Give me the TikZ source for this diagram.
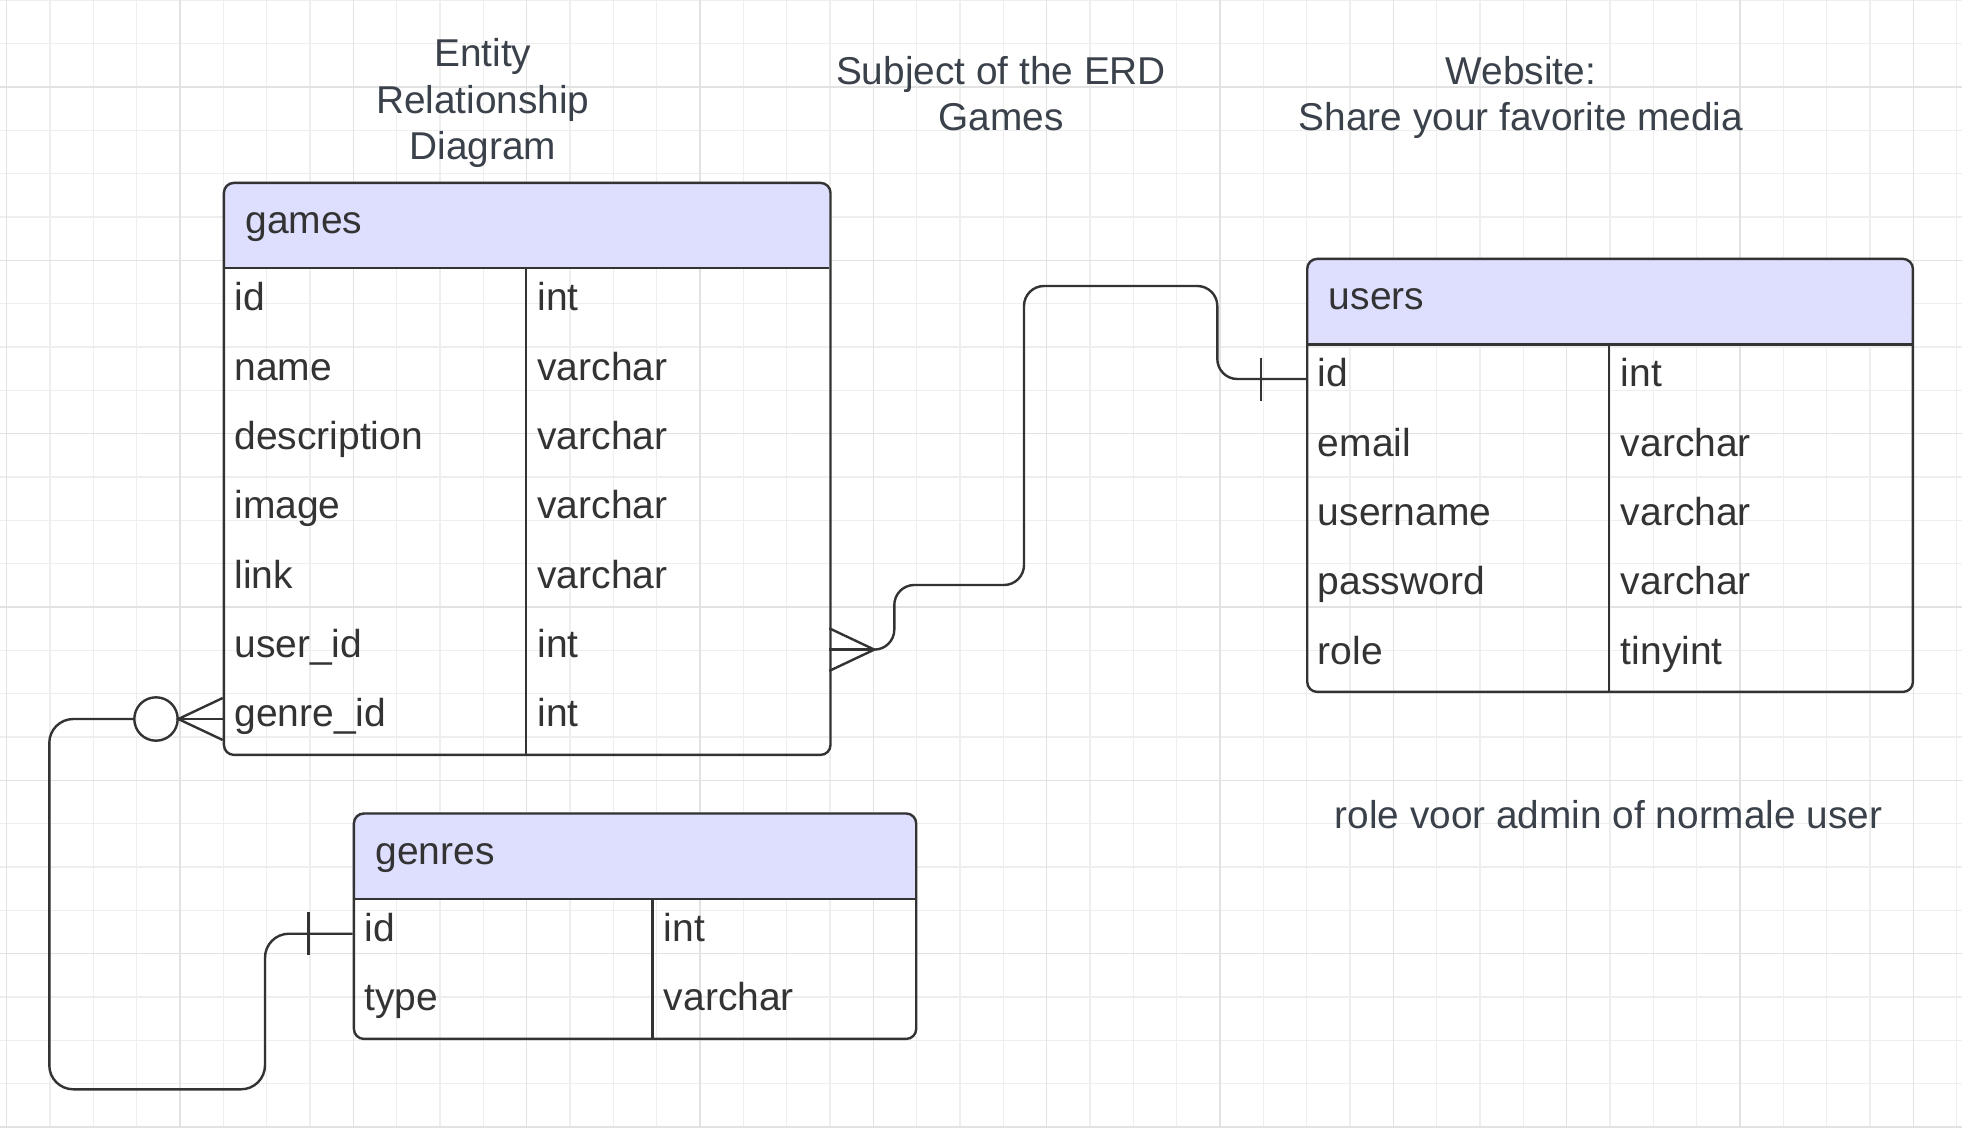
\documentclass[tikz,border=0pt]{standalone}
\usepackage{fontspec}
\setmainfont{Liberation Sans}
\definecolor{lncol}{RGB}{51,51,51}
\definecolor{txtcol}{RGB}{51,51,51}
\definecolor{ttlcol}{RGB}{58,65,74}
\definecolor{hdrfill}{RGB}{222,222,255}
\definecolor{gminor}{RGB}{238,238,238}
\definecolor{gmajor}{RGB}{226,226,226}
\begin{document}
\begin{tikzpicture}[x=0.5pt,y=-0.5pt,
  ln/.style={draw=lncol,line width=1.2pt},
  tblbox/.style={draw=lncol,line width=1.2pt,rounded corners=5pt,rectangle,inner sep=0pt,anchor=north west},
  hdr/.style={fill=hdrfill},
  txt/.style={font=\fontsize{19.5}{23}\selectfont,text=txtcol,inner sep=0pt,anchor=base west},
  ttl/.style={font=\fontsize{19.4}{23}\selectfont,text=ttlcol,inner sep=0pt,anchor=base},
  ring/.style={circle,draw=lncol,line width=1.2pt,inner sep=0pt,minimum size=21.7pt}]
\useasboundingbox (0,0) rectangle (1962,1128);
\fill[white] (0,0) rectangle (1962,1128);
% grid
\foreach \k in {0,...,45} \draw[gminor,line width=0.75pt] ({6.67+43.333*\k},0) -- ({6.67+43.333*\k},1128);
\foreach \k in {0,...,26} \draw[gminor,line width=0.75pt] (0,{0.33+43.333*\k}) -- (1962,{0.33+43.333*\k});
\foreach \k in {0,4,...,44} \draw[gmajor,line width=0.75pt] ({6.67+43.333*\k},0) -- ({6.67+43.333*\k},1128);
\foreach \k in {2,6,...,26} \draw[gmajor,line width=0.75pt] (0,{0.33+43.333*\k}) -- (1962,{0.33+43.333*\k});

% titles
\node[ttl] (t1a) at (482.8,66.7) {Entity};
\node[ttl] (t1b) at (482.8,113.3) {Relationship};
\node[ttl] (t1c) at (482.8,160) {Diagram};
\node[ttl] (t2a) at (1001,85) {Subject of the ERD};
\node[ttl] (t2b) at (1001,131) {Games};
\node[ttl] (t3a) at (1521,85) {Website:};
\node[ttl] (t3b) at (1521,131) {Share your favorite media};
\node[ttl] (note) at (1608.5,828) {role voor admin of normale user};

% ---------- games ----------
\fill[hdr,rounded corners=5pt] (222.7,181.7) rectangle (829.3,268.3);
\fill[hdr] (222.7,240) rectangle (829.3,268.3);
\node[tblbox,minimum width=303.3pt,minimum height=286pt] (games) at (222.7,181.7) {};
\draw[ln] (222.7,268.3) -- (829.3,268.3);
\draw[ln] (525.7,268.3) -- (525.7,753.7);
\node[txt] (gh) at (245,233.3) {games};
\node[txt] (g1a) at (234,310.7) {id};          \node[txt] (g1b) at (537,310.7) {int};
\node[txt] (g2a) at (234,380.0) {name};        \node[txt] (g2b) at (537,380.0) {varchar};
\node[txt] (g3a) at (234,449.3) {description}; \node[txt] (g3b) at (537,449.3) {varchar};
\node[txt] (g4a) at (234,518.7) {image};       \node[txt] (g4b) at (537,518.7) {varchar};
\node[txt] (g5a) at (234,588.0) {link};        \node[txt] (g5b) at (537,588.0) {varchar};
\node[txt] (g6a) at (234,657.3) {user\_id};    \node[txt] (g6b) at (537,657.3) {int};
\node[txt] (g7a) at (234,726.7) {genre\_id};   \node[txt] (g7b) at (537,726.7) {int};
\coordinate (g-uid) at (829.3,649.6);
\coordinate (g-gid) at (222.7,719.0);

% ---------- users ----------
\fill[hdr,rounded corners=5pt] (1306,257.7) rectangle (1911.7,344.3);
\fill[hdr] (1306,316) rectangle (1911.7,344.3);
\node[tblbox,minimum width=302.85pt,minimum height=216.5pt] (users) at (1306,257.7) {};
\draw[ln] (1306,344.3) -- (1911.7,344.3);
\draw[ln] (1609,344.3) -- (1609,690.7);
\node[txt] (uh) at (1328.5,309.3) {users};
\node[txt] (u1a) at (1317.5,386.7) {id};       \node[txt] (u1b) at (1620.5,386.7) {int};
\node[txt] (u2a) at (1317.5,456.0) {email};    \node[txt] (u2b) at (1620.5,456.0) {varchar};
\node[txt] (u3a) at (1317.5,525.3) {username}; \node[txt] (u3b) at (1620.5,525.3) {varchar};
\node[txt] (u4a) at (1317.5,594.7) {password}; \node[txt] (u4b) at (1620.5,594.7) {varchar};
\node[txt] (u5a) at (1317.5,664.0) {role};     \node[txt] (u5b) at (1620.5,664.0) {tinyint};
\coordinate (u-id) at (1306,379.0);

% ---------- genres ----------
\fill[hdr,rounded corners=5pt] (352.7,812.3) rectangle (915,899);
\fill[hdr] (352.7,870) rectangle (915,899);
\node[tblbox,minimum width=281.15pt,minimum height=112.7pt] (genres) at (352.7,812.3) {};
\draw[ln] (352.7,899) -- (915,899);
\draw[ln] (652.3,899) -- (652.3,1037.7);
\node[txt] (geh) at (375,864) {genres};
\node[txt] (ge1a) at (364,941.4) {id};   \node[txt] (ge1b) at (663.5,941.4) {int};
\node[txt] (ge2a) at (364,1010.7) {type}; \node[txt] (ge2b) at (663.5,1010.7) {varchar};
\coordinate (ge-id) at (352.7,933.7);

% ---------- games.user_id (many) -- users.id (one) ----------
\draw[ln] (g-uid) ++(0,-21.3) -- ++(45,21.3) -- ++(-45,21.3);
\draw[ln] (g-uid) -- ++(45,0) coordinate (cf1);
\draw[ln,rounded corners=10pt] (cf1) -| (894.3,585) -| (1024,286) -| (1217.3,379) -- (u-id);
\draw[ln] (u-id) ++(-45,-21.5) -- ++(0,43);

% ---------- games.genre_id (zero or many) -- genres.id (one) ----------
\draw[ln] (g-gid) ++(0,-21) -- ++(-44.4,21) -- ++(44.4,21);
\draw[ln] (g-gid) -- ++(-44.4,0);
\node[ring] (c1) at (156,719.0) {};
\draw[ln,rounded corners=12pt] (c1.west) -| (49.3,1089.3) -| (265,933.7) -- (ge-id);
\draw[ln] (ge-id) ++(-44.4,-21.5) -- ++(0,43);
\end{tikzpicture}
\end{document}
